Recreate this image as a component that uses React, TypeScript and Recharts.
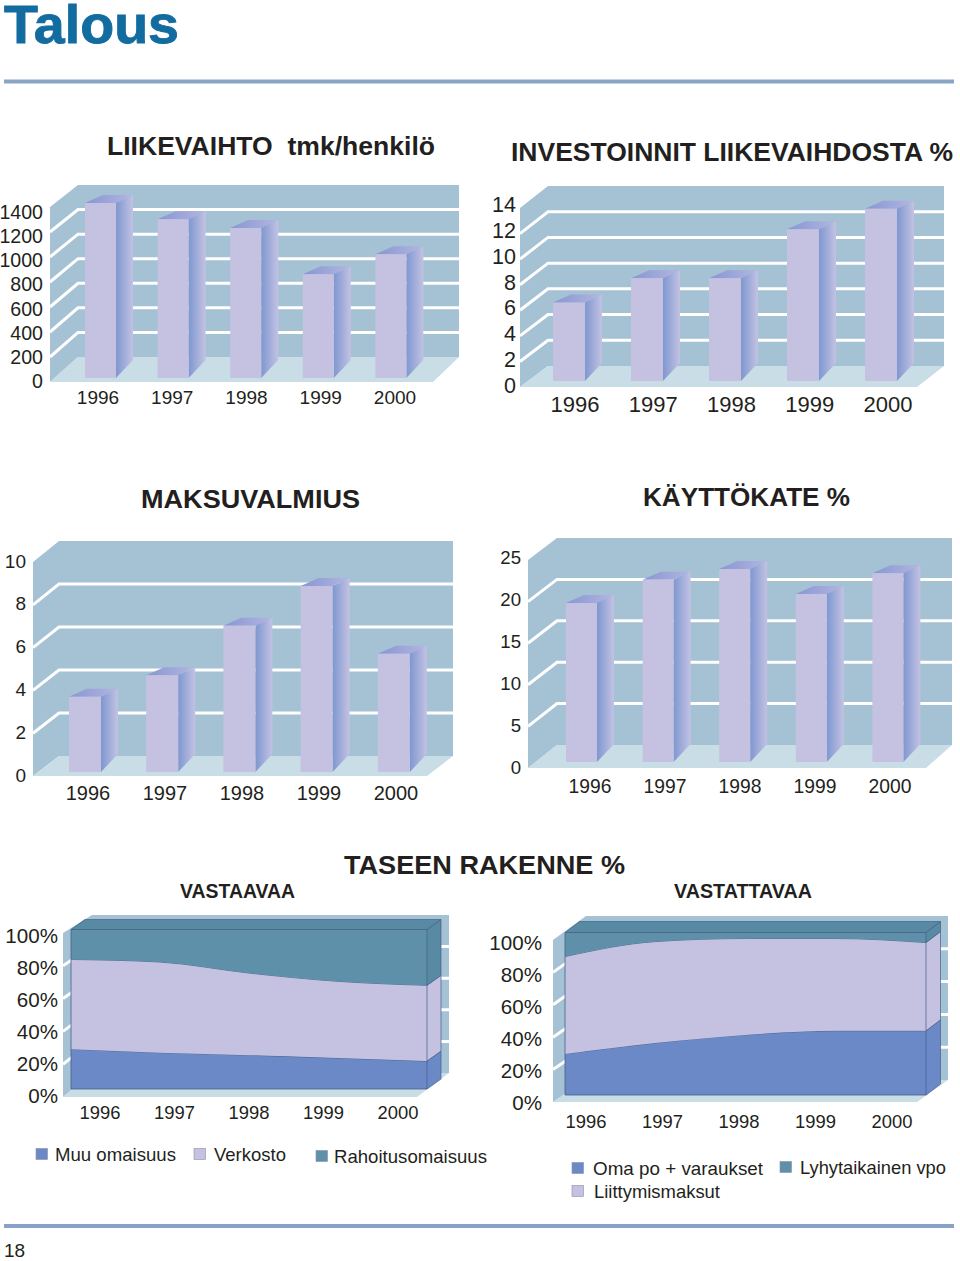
import React from "react";
import { AreaChart, Area, BarChart, Bar, XAxis, YAxis } from "recharts";

const years = ["1996", "1997", "1998", "1999", "2000"];

const liikevaihto = [1400, 1270, 1200, 830, 990];
const investoinnit = [6.1, 8, 8, 11.8, 13.4];
const maksuvalmius = [3.5, 4.5, 6.8, 8.65, 5.5];
const kayttokate = [19.2, 22, 23.3, 20.3, 22.8];

const muuOmaisuus = [25, 22.8, 21.2, 19.4, 17.5];
const verkosto = [56.2, 56.8, 51.5, 48.1, 47.5];
const rahoitusomaisuus = [18.8, 20.4, 27.3, 32.5, 35];

const omaPo = [25.3, 32, 37, 39.5, 39.5];
const liittymismaksut = [59.9, 62.4, 59.3, 56.8, 54.3];
const lyhytaikainenVpo = [14.8, 5.6, 3.7, 3.7, 6.2];

const liikevaihtoTicks = [0, 200, 400, 600, 800, 1000, 1200, 1400];
const investoinnitTicks = [0, 2, 4, 6, 8, 10, 12, 14];
const maksuvalmiusTicks = [0, 2, 4, 6, 8, 10];
const kayttokateTicks = [0, 5, 10, 15, 20, 25];
const percentTicks = [0, 20, 40, 60, 80, 100];

const INK = "#231f20";
const FONT = "'Liberation Sans', Arial, sans-serif";
const WALL = "#a5c1d4";
const FLOOR = "#c9dde7";
const BLUE = "#6b89c6";
const LILAC = "#c5c1e1";
const TEAL = "#5f90a9";
const EDGE = "#44608a";

const toRows = (values: number[]) => years.map((year, i) => ({ year, value: values[i] }));

// the walls are in page coordinates, the group shifts them into the chart box
const Walls = ({ box, wall, lines }: any) => (
  <g transform={`translate(${-box.left},${-box.top})`}>
    <defs>
      <linearGradient id="barSide" x1="0" y1="0" x2="1" y2="0">
        <stop offset="0" stopColor="#7f97d0" />
        <stop offset="1" stopColor="#c3c2e3" />
      </linearGradient>
      <linearGradient id="barTop" x1="0" y1="0" x2="1" y2="0">
        <stop offset="0" stopColor="#8796d3" />
        <stop offset="1" stopColor="#b3b6e0" />
      </linearGradient>
    </defs>
    <polygon
      fill={WALL}
      points={`${wall.x0},${wall.y0} ${wall.x0},${wall.frontTop} ${wall.xBack},${wall.backTop} ${wall.xRight},${wall.backTop} ${wall.xRight},${wall.backBottom} ${wall.xBack},${wall.backBottom}`}
    />
    <polygon
      fill={FLOOR}
      points={`${wall.x0},${wall.y0} ${wall.xBack},${wall.backBottom} ${wall.xRight},${wall.backBottom} ${wall.x1},${wall.y0}`}
    />
    {Array.from({ length: lines - 1 }, (_, i) => {
      const t = (i + 1) / lines;
      const front = wall.y0 + (wall.frontTop - wall.y0) * t;
      const back = wall.backBottom + (wall.backTop - wall.backBottom) * t;
      return (
        <polyline
          key={i}
          fill="none"
          stroke="#fff"
          strokeWidth={3}
          points={`${wall.x0},${front} ${wall.xBack},${back} ${wall.xRight},${back}`}
        />
      );
    })}
  </g>
);

const Bar3D = ({ x, y, width, height }: any) => {
  const right = x + width;
  const bottom = y + height;
  return (
    <g>
      <polygon fill="url(#barTop)" points={`${x},${y} ${x + 18},${y - 8} ${right + 17},${y - 8} ${right},${y}`} />
      <polygon
        fill="url(#barSide)"
        points={`${right},${y} ${right + 17},${y - 8} ${right + 17},${bottom - 18} ${right},${bottom}`}
      />
      <rect x={x} y={y} width={width} height={height} fill={LILAC} />
    </g>
  );
};

const axisTicks = (c: any) => ({
  x: (p: any) => {
    const step = (c.xLabels[1] - c.xLabels[0]) / 4;
    return (
      <text
        x={c.xLabels[0] + p.index * step - c.box.left}
        y={c.xLabelY - c.box.top}
        textAnchor="middle"
        dominantBaseline="central"
        fontFamily={FONT}
        fontSize={c.xFont}
        fill={INK}
      >
        {p.payload.value}
      </text>
    );
  },
  y: (p: any) => {
    const t = (c.plot.bottom - c.box.top - p.y) / (c.plot.bottom - c.plot.top);
    return (
      <text
        x={c.yLabelRight - c.box.left}
        y={c.yLabels[0] + (c.yLabels[1] - c.yLabels[0]) * t - c.box.top}
        textAnchor="end"
        dominantBaseline="central"
        fontFamily={FONT}
        fontSize={c.yFont}
        fill={INK}
      >
        {p.payload.value}
        {c.suffix || ""}
      </text>
    );
  },
});

const boxStyle = (box: any): React.CSSProperties => ({
  position: "absolute",
  left: box.left,
  top: box.top,
  width: box.width,
  height: box.height,
});

const chartMargin = ({ box, plot }: any) => ({
  top: plot.top - box.top,
  right: box.left + box.width - plot.right,
  bottom: 0,
  left: 0,
});

const Column3D = ({ config, values, ticks }: any) => {
  const { box, plot, wall } = config;
  const tickers = axisTicks(config);
  return (
    <div style={boxStyle(box)}>
      <BarChart width={box.width} height={box.height} data={toRows(values)} margin={chartMargin(config)}>
        <Walls box={box} wall={wall} lines={ticks.length - 1} />
        <XAxis
          dataKey="year"
          height={box.top + box.height - plot.bottom}
          interval={0}
          axisLine={false}
          tickLine={false}
          tick={tickers.x}
        />
        <YAxis
          type="number"
          width={plot.left - box.left}
          domain={[0, ticks[ticks.length - 1]]}
          ticks={ticks}
          interval={0}
          axisLine={false}
          tickLine={false}
          tick={tickers.y}
        />
        <Bar dataKey="value" barSize={config.barWidth} isAnimationActive={false} shape={<Bar3D />} />
      </BarChart>
    </div>
  );
};

const Stack3D = ({ config, bands }: any) => {
  const { box, plot, wall, depth } = config;
  const tickers = axisTicks(config);
  const data = years.map((year, i) => {
    const row: any = { year };
    bands.forEach((b: any) => (row[b.name] = b.values[i]));
    return row;
  });
  const bottom = plot.bottom - box.top;
  const plotLeft = plot.left - box.left;

  // the side of the block hangs on the last point of every series
  const sideFace = (bandIndex: number) => (p: any) => {
    if (p.index !== years.length - 1) return <g key={p.index} />;
    const sum = (n: number) => bands.slice(0, n).reduce((s: number, b: any) => s + b.values[p.index], 0);
    const low = bottom - ((bottom - p.cy) * sum(bandIndex)) / sum(bandIndex + 1);
    const isTop = bandIndex === bands.length - 1;
    return (
      <g key={p.index}>
        <polygon
          fill={bands[bandIndex].side}
          stroke={EDGE}
          strokeWidth={0.7}
          points={`${p.cx},${p.cy} ${p.cx + depth.dx},${p.cy - depth.dy} ${p.cx + depth.dx},${low - depth.dy} ${p.cx},${low}`}
        />
        {isTop && (
          <>
            <polygon
              fill={bands[bandIndex].side}
              stroke={EDGE}
              strokeWidth={0.7}
              points={`${plotLeft},${p.cy} ${plotLeft + depth.dx},${p.cy - depth.dy} ${p.cx + depth.dx},${p.cy - depth.dy} ${p.cx},${p.cy}`}
            />
            <polyline
              fill="none"
              stroke={EDGE}
              strokeWidth={0.8}
              points={`${plotLeft},${p.cy} ${plotLeft},${bottom} ${p.cx},${bottom}`}
            />
          </>
        )}
      </g>
    );
  };

  return (
    <div style={boxStyle(box)}>
      <AreaChart width={box.width} height={box.height} data={data} margin={chartMargin(config)}>
        <Walls box={box} wall={wall} lines={5} />
        <XAxis
          dataKey="year"
          height={box.top + box.height - plot.bottom}
          interval={0}
          axisLine={false}
          tickLine={false}
          tick={tickers.x}
        />
        <YAxis
          type="number"
          width={plot.left - box.left}
          domain={[0, 100]}
          ticks={percentTicks}
          interval={0}
          axisLine={false}
          tickLine={false}
          tick={tickers.y}
        />
        {bands.map((b: any, i: number) => (
          <Area
            key={b.name}
            type="monotone"
            dataKey={b.name}
            stackId="balance"
            fill={b.fill}
            fillOpacity={1}
            stroke={EDGE}
            strokeWidth={0.8}
            isAnimationActive={false}
            activeDot={false}
            dot={sideFace(i)}
          />
        ))}
      </AreaChart>
    </div>
  );
};

const chartLiikevaihto = {
  box: { left: 0, top: 170, width: 475, height: 245 },
  plot: { left: 64, right: 427, top: 203, bottom: 378 },
  wall: { x0: 50, x1: 433, y0: 382, frontTop: 207, xBack: 78, xRight: 459, backTop: 185, backBottom: 357 },
  barWidth: 31,
  xLabels: [98, 395],
  xLabelY: 397,
  xFont: 19,
  yLabels: [381, 212],
  yLabelRight: 43,
  yFont: 19.6,
};
const chartInvestoinnit = {
  box: { left: 480, top: 170, width: 475, height: 250 },
  plot: { left: 530, right: 920, top: 201, bottom: 381 },
  wall: { x0: 520, x1: 917, y0: 387, frontTop: 208, xBack: 548, xRight: 944, backTop: 186, backBottom: 366 },
  barWidth: 32,
  xLabels: [575, 888],
  xLabelY: 404,
  xFont: 22,
  yLabels: [386, 205],
  yLabelRight: 516,
  yFont: 21.5,
};
const chartMaksuvalmius = {
  box: { left: 0, top: 530, width: 470, height: 280 },
  plot: { left: 46, right: 432, top: 557, bottom: 772 },
  wall: { x0: 33, x1: 427, y0: 776, frontTop: 562, xBack: 59, xRight: 453, backTop: 541, backBottom: 756 },
  barWidth: 32,
  xLabels: [88, 396],
  xLabelY: 793,
  xFont: 20,
  yLabels: [775, 561],
  yLabelRight: 26,
  yFont: 19,
};
const chartKayttokate = {
  box: { left: 480, top: 530, width: 475, height: 280 },
  plot: { left: 543, right: 926, top: 555, bottom: 762 },
  wall: { x0: 528, x1: 926, y0: 768, frontTop: 560, xBack: 557, xRight: 952, backTop: 538, backBottom: 745 },
  barWidth: 31,
  xLabels: [590, 890],
  xLabelY: 786,
  xFont: 19.3,
  yLabels: [767, 557],
  yLabelRight: 521,
  yFont: 18.6,
};
const chartVastaavaa = {
  box: { left: 0, top: 905, width: 460, height: 225 },
  plot: { left: 71, right: 427, top: 929.5, bottom: 1089 },
  wall: { x0: 63, x1: 417, y0: 1097, frontTop: 933, xBack: 92, xRight: 449, backTop: 915, backBottom: 1073 },
  depth: { dx: 14, dy: 10 },
  xLabels: [100, 398],
  xLabelY: 1112,
  xFont: 18.4,
  yLabels: [1095, 935],
  yLabelRight: 58,
  yFont: 20.6,
  suffix: "%",
};
const chartVastattavaa = {
  box: { left: 480, top: 905, width: 475, height: 235 },
  plot: { left: 565, right: 926, top: 932.5, bottom: 1095 },
  wall: { x0: 553, x1: 917, y0: 1102, frontTop: 940, xBack: 586, xRight: 948, backTop: 916, backBottom: 1080 },
  depth: { dx: 14.5, dy: 11 },
  xLabels: [586, 892],
  xLabelY: 1121,
  xFont: 18.4,
  yLabels: [1102, 942],
  yLabelRight: 542,
  yFont: 20.6,
  suffix: "%",
};

const assetBands = [
  { name: "Muu omaisuus", values: muuOmaisuus, fill: BLUE, side: BLUE },
  { name: "Verkosto", values: verkosto, fill: LILAC, side: LILAC },
  { name: "Rahoitusomaisuus", values: rahoitusomaisuus, fill: TEAL, side: "#588aa3" },
];
const debtBands = [
  { name: "Oma po + varaukset", values: omaPo, fill: BLUE, side: BLUE },
  { name: "Liittymismaksut", values: liittymismaksut, fill: LILAC, side: LILAC },
  { name: "Lyhytaikainen vpo", values: lyhytaikainenVpo, fill: TEAL, side: "#588aa3" },
];

const titles = [
  { text: "LIIKEVAIHTO  tmk/henkilö", x: 107, y: 146, end: 435, size: 26 },
  { text: "INVESTOINNIT LIIKEVAIHDOSTA %", x: 511, y: 152, end: 953, size: 26 },
  { text: "MAKSUVALMIUS", x: 141, y: 499, end: 360, size: 26 },
  { text: "KÄYTTÖKATE %", x: 643, y: 497, end: 850, size: 26 },
  { text: "TASEEN RAKENNE %", x: 344, y: 865, end: 625, size: 26 },
  { text: "VASTAAVAA", x: 180, y: 891, end: 295, size: 20 },
  { text: "VASTATTAVAA", x: 674, y: 891, end: 812, size: 20 },
];

const legendItems = [
  { text: "Muu omaisuus", swatch: BLUE, sx: 36, tx: 55, end: 176, y: 1154 },
  { text: "Verkosto", swatch: LILAC, sx: 194, tx: 214, end: 286, y: 1154 },
  { text: "Rahoitusomaisuus", swatch: TEAL, sx: 316, tx: 334, end: 487, y: 1156 },
  { text: "Oma po + varaukset", swatch: BLUE, sx: 572, tx: 593, end: 763, y: 1168 },
  { text: "Lyhytaikainen vpo", swatch: TEAL, sx: 780, tx: 800, end: 946, y: 1167 },
  { text: "Liittymismaksut", swatch: LILAC, sx: 572, tx: 594, end: 720, y: 1191 },
];

export default function App() {
  return (
    <div style={{ position: "absolute", left: 0, top: 0, width: 960, height: 1261, background: "#fff", overflow: "hidden" }}>
      <svg width={960} height={1261} style={{ position: "absolute", left: 0, top: 0 }} fontFamily={FONT}>
        <text
          x={4}
          y={43}
          fontSize={54.5}
          fontWeight="bold"
          fill="#136ca0"
          stroke="#136ca0"
          strokeWidth={0.9}
          textLength={175}
          lengthAdjust="spacingAndGlyphs"
        >
          Talous
        </text>
        <rect x={4} y={79.5} width={950} height={4} fill="#8ba6c5" />
        <rect x={4} y={1224} width={950} height={4} fill="#8aa2c8" />
        <text x={4} y={1257} fontSize={19} fill={INK}>
          18
        </text>
        {titles.map((t) => (
          <text
            key={t.text}
            x={t.x}
            y={t.y}
            dominantBaseline="central"
            fontSize={t.size}
            fontWeight="bold"
            fill={INK}
            xmlSpace="preserve"
            textLength={t.end - t.x}
            lengthAdjust="spacingAndGlyphs"
          >
            {t.text}
          </text>
        ))}
        {legendItems.map((l) => (
          <g key={l.text}>
            <rect x={l.sx} y={l.y - 5.5} width={11.5} height={11} fill={l.swatch} stroke="#8a8fa8" strokeWidth={0.6} />
            <text
              x={l.tx}
              y={l.y}
              dominantBaseline="central"
              fontSize={18.6}
              fill={INK}
              textLength={l.end - l.tx}
              lengthAdjust="spacingAndGlyphs"
            >
              {l.text}
            </text>
          </g>
        ))}
      </svg>
      <Column3D config={chartLiikevaihto} values={liikevaihto} ticks={liikevaihtoTicks} />
      <Column3D config={chartInvestoinnit} values={investoinnit} ticks={investoinnitTicks} />
      <Column3D config={chartMaksuvalmius} values={maksuvalmius} ticks={maksuvalmiusTicks} />
      <Column3D config={chartKayttokate} values={kayttokate} ticks={kayttokateTicks} />
      <Stack3D config={chartVastaavaa} bands={assetBands} />
      <Stack3D config={chartVastattavaa} bands={debtBands} />
    </div>
  );
}
